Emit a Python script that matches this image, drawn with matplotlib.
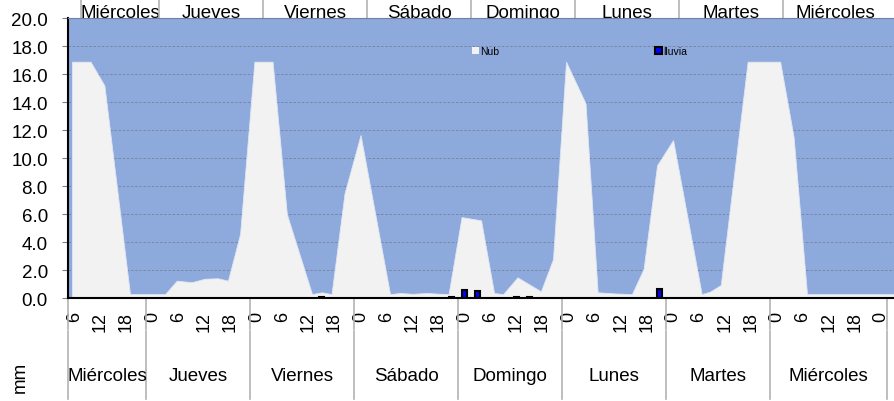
import matplotlib
matplotlib.use('Agg')
import matplotlib.pyplot as plt
from matplotlib import transforms
from matplotlib.patches import Patch

plt.rcParams['font.family'] = ['Liberation Sans', 'DejaVu Sans']

# hours counted from Miércoles 00:00
nub_h = [5.4, 9.7, 12.9, 18.8, 26.9, 29.6, 33.0, 36.1, 39.1, 41.4, 44.2, 47.5,
         51.7, 55.0, 60.8, 63.1, 65.3, 68.3, 72.0, 78.8, 81.1, 84.0, 87.3, 90.0,
         92.3, 95.3, 99.8, 102.8, 104.9, 108.2, 113.6, 116.4, 119.4, 123.9, 126.7,
         130.5, 134.6, 137.3, 140.4, 144.1, 150.7, 152.6, 155.1, 161.3, 168.8,
         171.9, 175.0, 196.0]
nub_v = [16.9, 16.9, 15.2, 0.3, 0.3, 1.26, 1.15, 1.4, 1.43, 1.26, 4.6, 16.9,
         16.9, 6.0, 0.3, 0.43, 0.3, 7.5, 11.66, 0.3, 0.38, 0.32, 0.38, 0.33,
         0.3, 5.8, 5.57, 0.38, 0.3, 1.5, 0.5, 2.8, 16.9, 13.93, 0.43,
         0.35, 0.3, 2.1, 9.5, 11.3, 0.3, 0.47, 0.95, 16.9, 16.9,
         11.54, 0.3, 0.3]

lluvia_h = [63, 93, 96, 99, 108, 111, 141]
lluvia_v = [0.1, 0.1, 0.6, 0.55, 0.1, 0.1, 0.65]

tick_h = list(range(6, 193, 6))
tick_labels = [str(h % 24) for h in tick_h]

days = ['Miércoles', 'Jueves', 'Viernes', 'Sábado', 'Domingo', 'Lunes', 'Martes', 'Miércoles']
bottom_edges = [4.5, 22.5, 46.5, 70.5, 94.5, 118.5, 142.5, 166.5, 193.5]
top_edges = [7.5, 25.5, 49.5, 73.5, 97.5, 121.5, 145.5, 169.5, 193.5]

blue = '#8EA9DB'
grey = '#F2F2F2'

fig = plt.figure(figsize=(8.95, 4.02), dpi=100)
ax = fig.add_axes([68 / 895, 1 - 299.3 / 402, 827 / 895, 280 / 402])
ax.set_facecolor(blue)

ax.fill_between(nub_h, nub_v, 0, color=grey, lw=0.6, edgecolor='#dfe6f3', zorder=2)
ax.bar(lluvia_h, lluvia_v, width=1.3, color='#0000FF', edgecolor='black', lw=1.5, zorder=3)

ax.set_xlim(4.5, 195.3)
ax.set_ylim(0, 20)
ax.set_yticks(range(0, 21, 2))
ax.set_yticklabels(['%.1f' % v for v in range(0, 21, 2)])
ax.set_xticks(tick_h)
ax.set_xticklabels(tick_labels, rotation=90, va='top', ha='center')
ax.tick_params(axis='x', length=0, pad=9, labelsize=13)
ax.tick_params(axis='y', length=4.5, width=0.8, color='#808080', pad=10, labelsize=13.5)
ax.set_axisbelow(True)
ax.yaxis.grid(True, color='#75829c', ls=(0, (3, 2)), lw=0.6)

for s in ['left', 'bottom']:
    ax.spines[s].set_linewidth(1.5)
ax.spines['right'].set_visible(False)
ax.spines['top'].set_color('#6f80a8')
ax.spines['top'].set_linewidth(0.8)

# day dividers and labels
bt = transforms.blended_transform_factory(ax.transData, ax.transAxes)
for x in bottom_edges:
    ax.plot([x, x], [0, -0.1096], transform=bt, clip_on=False, color='#b3b3b3', lw=1.2)
    ax.plot([x, x], [-0.1168, -0.36], transform=bt, clip_on=False, color='#b3b3b3', lw=1.2)
for x in top_edges[:-1]:
    ax.plot([x, x], [1.0, 1.08], transform=bt, clip_on=False, color='#b3b3b3', lw=1.2)

for i, d in enumerate(days):
    xb = (bottom_edges[i] + bottom_edges[i + 1]) / 2
    ax.text(xb, -0.2907, d, transform=bt, ha='center', va='baseline', fontsize=13.5)

ft = transforms.blended_transform_factory(ax.transData, fig.transFigure)
for i, d in enumerate(days):
    xt = (top_edges[i] + top_edges[i + 1]) / 2
    fig.text(xt, 1 - 18.3 / 402, d, transform=ft, ha='center', va='baseline',
             fontsize=13.5, zorder=-1)

fig.text(20 / 895, 1 - 377 / 402, 'mm', rotation=90, ha='center', va='center', fontsize=13.5)

# legend entries, placed apart
h1 = Patch(facecolor=grey, edgecolor='none')
h2 = Patch(facecolor='#0000FF', edgecolor='black', lw=1.5)
leg1 = ax.legend([h1], ['Nub'], loc='center left', bbox_to_anchor=(0.488, 0.883),
                 frameon=False, fontsize=7.5, handlelength=0.7, handleheight=0.7,
                 handletextpad=0.1, borderpad=0, borderaxespad=0)
ax.add_artist(leg1)
ax.legend([h2], ['lluvia'], loc='center left', bbox_to_anchor=(0.710, 0.883),
          frameon=False, fontsize=7.5, handlelength=0.7, handleheight=0.7,
          handletextpad=0.1, borderpad=0, borderaxespad=0)

fig.savefig('out.png', dpi=100)
